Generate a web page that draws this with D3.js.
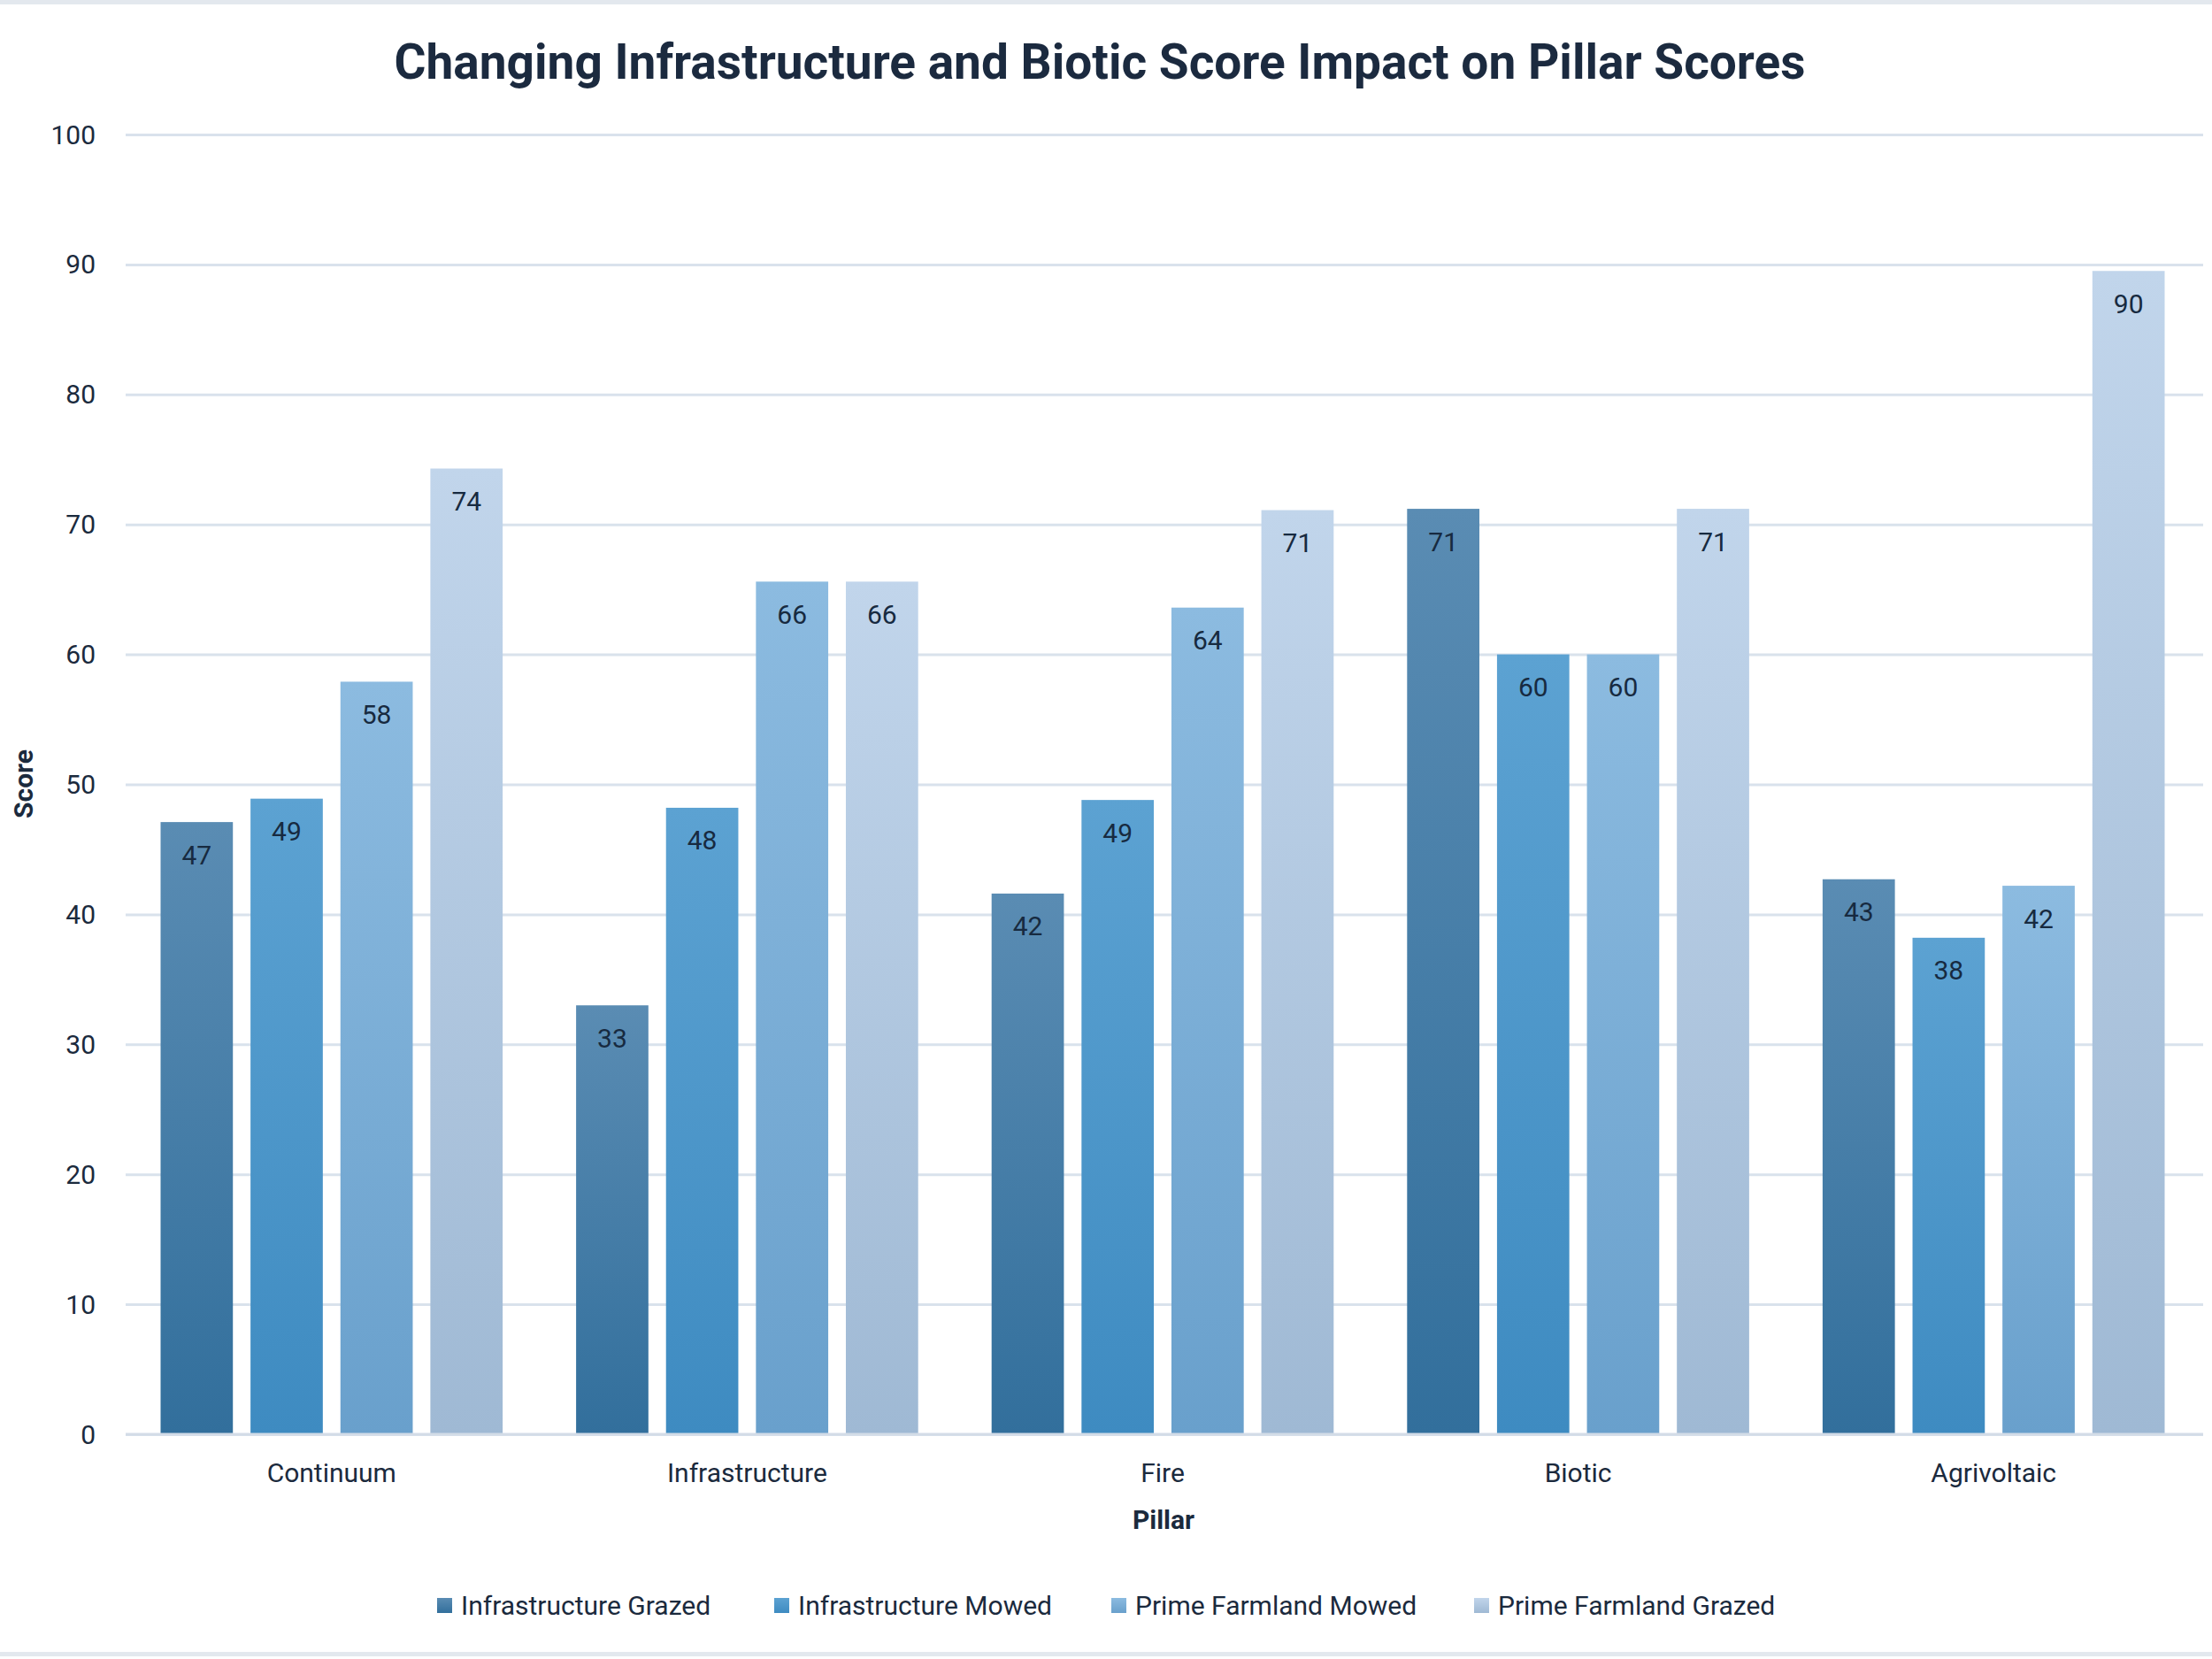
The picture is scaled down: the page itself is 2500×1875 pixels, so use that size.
<!DOCTYPE html>
<html lang="en">
<head>
<meta charset="utf-8">
<title>Pillar Scores</title>
<script src="https://d3js.org/d3.v7.min.js"></script>
<style>
  body { margin: 0; background: #fff; }
  text { font-family: Roboto, "Noto Sans", sans-serif; }
</style>
</head>
<body>
<script>
'use strict';

// data
var pillars = ["Continuum", "Infrastructure", "Fire", "Biotic", "Agrivoltaic"];
var seriesNames = ["Infrastructure Grazed", "Infrastructure Mowed", "Prime Farmland Mowed", "Prime Farmland Grazed"];
var infraGrazed = [47.1, 33.0, 41.6, 71.2, 42.7];
var infraMowed = [48.9, 48.2, 48.8, 60.0, 38.2];
var primeMowed = [57.9, 65.6, 63.6, 60.0, 42.2];
var primeGrazed = [74.3, 65.6, 71.1, 71.2, 89.5];
var yTicks = [0, 10, 20, 30, 40, 50, 60, 70, 80, 90, 100];

var seriesValues = [infraGrazed, infraMowed, primeMowed, primeGrazed];
var colorsTop = ["#5a8cb3", "#5ca2d2", "#8cbbe0", "#c1d5eb"];
var colorsBottom = ["#326f9c", "#3e8bc1", "#69a0cc", "#9fb9d4"];

var w = 2500, h = 1875;

var svg = d3.select("body").append("svg")
    .attr("width", w)
    .attr("height", h);

// frame lines top & bottom
svg.append("rect").attr("x", 0).attr("y", 0).attr("width", w).attr("height", 5).attr("fill", "#e3e8ee");
svg.append("rect").attr("x", 0).attr("y", 1867).attr("width", w).attr("height", 5).attr("fill", "#e3e8ee");

var x0 = d3.scaleBand()
    .domain(pillars)
    .range([140, 2488])
    .padding(0);

var x1 = d3.scaleBand()
    .domain(d3.range(seriesNames.length))
    .range([41.5, x0.bandwidth() - 41.5])
    .paddingInner(0.196)
    .paddingOuter(0);

var y = d3.scaleLinear()
    .domain([0, 100])
    .range([1621, 152]);

// gradients
var defs = svg.append("defs");
seriesNames.forEach(function(s, i) {
    var g = defs.append("linearGradient")
        .attr("id", "grad" + i)
        .attr("x1", 0).attr("y1", 0).attr("x2", 0).attr("y2", 1);
    g.append("stop").attr("offset", "0%").attr("stop-color", colorsTop[i]);
    g.append("stop").attr("offset", "100%").attr("stop-color", colorsBottom[i]);
});

// gridlines
svg.append("g")
    .attr("transform", "translate(" + 142 + ",0)")
    .call(d3.axisLeft(y).tickValues(yTicks).tickSize(-(2490 - 142)).tickFormat(""))
    .call(function(g) {
        g.select(".domain").remove();
        g.selectAll("line").attr("stroke", "#d9e2ec").attr("stroke-width", 3);
    });

// y tick labels
svg.append("g")
    .selectAll("text")
    .data(yTicks)
    .enter()
    .append("text")
    .attr("x", 108)
    .attr("y", function(d) { return y(d); })
    .attr("dy", "0.35em")
    .attr("text-anchor", "end")
    .attr("font-size", "30px")
    .attr("fill", "#1b2a3d")
    .text(function(d) { return d; });

// bars
var groups = svg.selectAll("g.pillar")
    .data(pillars)
    .enter()
    .append("g")
    .attr("class", "pillar")
    .attr("transform", function(d) { return "translate(" + x0(d) + ",0)"; });

groups.selectAll("rect")
    .data(function(d, pi) {
        return seriesValues.map(function(vals, si) { return {s: si, v: vals[pi]}; });
    })
    .enter()
    .append("rect")
    .attr("x", function(d) { return x1(d.s); })
    .attr("y", function(d) { return y(d.v); })
    .attr("width", x1.bandwidth())
    .attr("height", function(d) { return y(0) - y(d.v); })
    .attr("fill", function(d) { return "url(#grad" + d.s + ")"; });

groups.selectAll("text")
    .data(function(d, pi) {
        return seriesValues.map(function(vals, si) { return {s: si, v: vals[pi]}; });
    })
    .enter()
    .append("text")
    .attr("x", function(d) { return x1(d.s) + x1.bandwidth() / 2; })
    .attr("y", function(d) { return y(d.v) + 37; })
    .attr("dy", "0.35em")
    .attr("text-anchor", "middle")
    .attr("font-size", "30px")
    .attr("fill", "#172a40")
    .text(function(d) { return Math.round(d.v); });

// x baseline
svg.append("line")
    .attr("x1", 142).attr("x2", 2490)
    .attr("y1", y(0)).attr("y2", y(0))
    .attr("stroke", "#d3dce7").attr("stroke-width", 3);

// category labels
svg.append("g")
    .selectAll("text")
    .data(pillars)
    .enter()
    .append("text")
    .attr("x", function(d) { return x0(d) + x0.bandwidth() / 2; })
    .attr("y", 1664)
    .attr("dy", "0.35em")
    .attr("text-anchor", "middle")
    .attr("font-size", "30px")
    .attr("fill", "#1b2a3d")
    .text(function(d) { return d; });

// axis titles
svg.append("text")
    .attr("x", 1315).attr("y", 1717)
    .attr("dy", "0.35em")
    .attr("text-anchor", "middle")
    .attr("font-size", "30px")
    .attr("font-weight", "bold")
    .attr("fill", "#1b2a3d")
    .text("Pillar");

svg.append("text")
    .attr("transform", "translate(26,886) rotate(-90)")
    .attr("dy", "0.35em")
    .attr("text-anchor", "middle")
    .attr("font-size", "30px")
    .attr("font-weight", "bold")
    .attr("fill", "#1b2a3d")
    .text("Score");

// title
svg.append("text")
    .attr("x", 1243).attr("y", 70)
    .attr("dy", "0.35em")
    .attr("text-anchor", "middle")
    .attr("font-size", "55px")
    .attr("font-weight", "bold")
    .attr("fill", "#1b2a3f")
    .text("Changing Infrastructure and Biotic Score Impact on Pillar Scores");

// legend
var legendX = [494, 875, 1256, 1666];
var legend = svg.append("g")
    .selectAll("g")
    .data(seriesNames)
    .enter()
    .append("g")
    .attr("transform", function(d, i) { return "translate(" + legendX[i] + ",1814)"; });

legend.append("rect")
    .attr("x", 0).attr("y", -8)
    .attr("width", 17).attr("height", 17)
    .attr("fill", function(d, i) { return "url(#grad" + i + ")"; });

legend.append("text")
    .attr("x", 27).attr("y", 0)
    .attr("dy", "0.35em")
    .attr("font-size", "30px")
    .attr("fill", "#1b2a3d")
    .text(function(d) { return d; });
</script>
</body>
</html>
